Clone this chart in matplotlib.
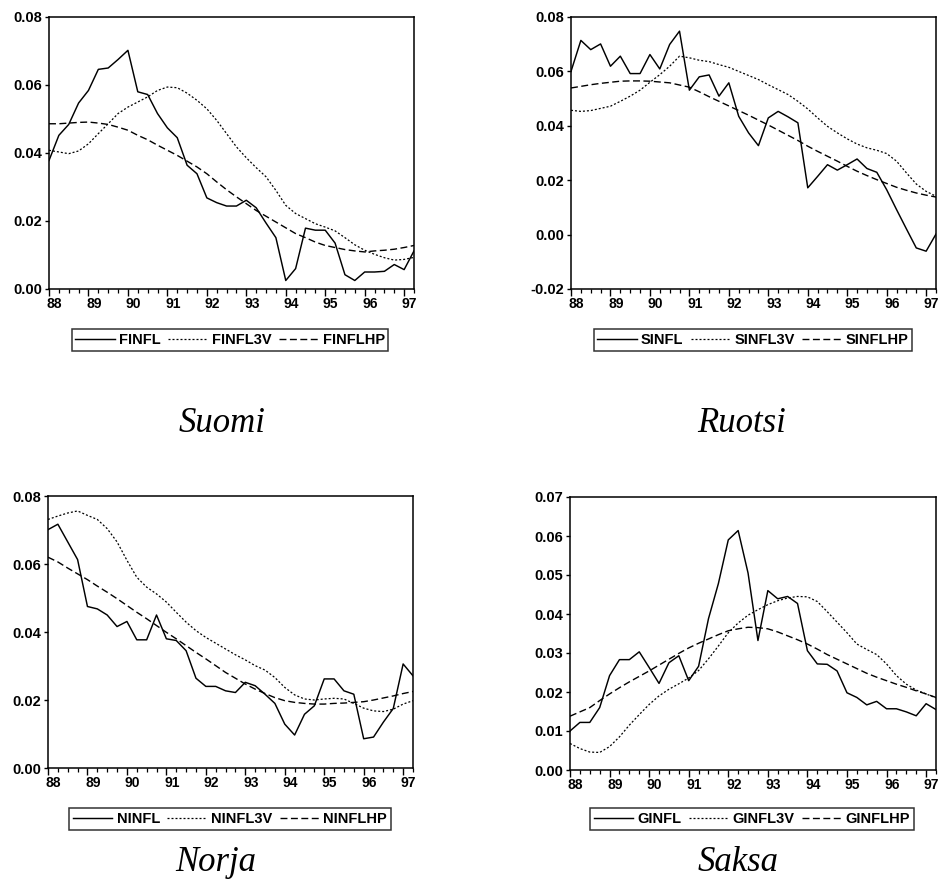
import matplotlib
matplotlib.use('Agg')
import matplotlib.pyplot as plt
from matplotlib import font_manager
from matplotlib.lines import Line2D
from matplotlib.transforms import ScaledTranslation, blended_transform_factory

# quarterly inflation 1988Q1 - 1997Q2: actual, 3-year moving average, HP trend
years = ['88', '89', '90', '91', '92', '93', '94', '95', '96', '97']

fin_infl = [0.0378, 0.0452, 0.0484, 0.0547, 0.0584, 0.0646, 0.0650, 0.0675, 0.0702, 0.0580,
            0.0572, 0.0516, 0.0474, 0.0445, 0.0364, 0.0339, 0.0268, 0.0254, 0.0244, 0.0244,
            0.0261, 0.0239, 0.0194, 0.0151, 0.0025, 0.0060, 0.0179, 0.0173, 0.0173, 0.0135,
            0.0042, 0.0025, 0.0050, 0.0050, 0.0052, 0.0072, 0.0057, 0.0112]
fin_3v = [0.0408, 0.0403, 0.0398, 0.0406, 0.0427, 0.0457, 0.0486, 0.0516, 0.0535, 0.0550,
          0.0565, 0.0584, 0.0594, 0.0592, 0.0576, 0.0555, 0.0530, 0.0496, 0.0457, 0.0418,
          0.0386, 0.0357, 0.0330, 0.0290, 0.0246, 0.0222, 0.0207, 0.0192, 0.0182, 0.0171,
          0.0151, 0.0130, 0.0114, 0.0102, 0.0092, 0.0085, 0.0087, 0.0093]
fin_hp = [0.0486, 0.0486, 0.0488, 0.0490, 0.0491, 0.0488, 0.0484, 0.0476, 0.0467, 0.0452,
          0.0439, 0.0423, 0.0408, 0.0393, 0.0376, 0.0359, 0.0339, 0.0315, 0.0292, 0.0271,
          0.0251, 0.0231, 0.0214, 0.0197, 0.0180, 0.0163, 0.0151, 0.0138, 0.0128, 0.0122,
          0.0116, 0.0112, 0.0109, 0.0112, 0.0114, 0.0117, 0.0122, 0.0128]

swe_infl = [0.0600, 0.0714, 0.0680, 0.0701, 0.0619, 0.0656, 0.0592, 0.0592, 0.0662, 0.0609,
            0.0699, 0.0748, 0.0531, 0.0580, 0.0587, 0.0509, 0.0558, 0.0435, 0.0374, 0.0327,
            0.0429, 0.0453, 0.0433, 0.0411, 0.0172, 0.0214, 0.0257, 0.0237, 0.0257, 0.0278,
            0.0243, 0.0229, 0.0165, 0.0092, 0.0021, -0.0049, -0.0061, 0.0002]
swe_3v = [0.0457, 0.0453, 0.0456, 0.0464, 0.0472, 0.0490, 0.0509, 0.0531, 0.0560, 0.0588,
          0.0619, 0.0656, 0.0650, 0.0641, 0.0636, 0.0625, 0.0615, 0.0600, 0.0585, 0.0570,
          0.0551, 0.0533, 0.0515, 0.0490, 0.0462, 0.0429, 0.0398, 0.0374, 0.0352, 0.0333,
          0.0319, 0.0310, 0.0298, 0.0270, 0.0227, 0.0186, 0.0159, 0.0141]
swe_hp = [0.0539, 0.0545, 0.0551, 0.0556, 0.0560, 0.0564, 0.0565, 0.0565, 0.0564, 0.0561,
          0.0558, 0.0550, 0.0542, 0.0525, 0.0507, 0.0490, 0.0473, 0.0456, 0.0439, 0.0421,
          0.0403, 0.0384, 0.0365, 0.0346, 0.0325, 0.0306, 0.0288, 0.0270, 0.0251, 0.0233,
          0.0217, 0.0202, 0.0188, 0.0174, 0.0163, 0.0153, 0.0145, 0.0138]

nor_infl = [0.0701, 0.0717, 0.0665, 0.0613, 0.0475, 0.0468, 0.0450, 0.0416, 0.0431, 0.0377,
            0.0377, 0.0450, 0.0380, 0.0375, 0.0345, 0.0264, 0.0240, 0.0240, 0.0227, 0.0222,
            0.0252, 0.0242, 0.0217, 0.0190, 0.0129, 0.0097, 0.0158, 0.0183, 0.0262, 0.0262,
            0.0227, 0.0217, 0.0086, 0.0091, 0.0135, 0.0175, 0.0306, 0.0271]
nor_3v = [0.0731, 0.0741, 0.0750, 0.0756, 0.0743, 0.0731, 0.0704, 0.0665, 0.0611, 0.0561,
          0.0532, 0.0512, 0.0488, 0.0458, 0.0429, 0.0404, 0.0384, 0.0367, 0.0350, 0.0333,
          0.0318, 0.0301, 0.0288, 0.0266, 0.0237, 0.0215, 0.0203, 0.0200, 0.0203, 0.0205,
          0.0203, 0.0190, 0.0176, 0.0168, 0.0166, 0.0173, 0.0188, 0.0198]
nor_hp = [0.0620, 0.0606, 0.0588, 0.0571, 0.0554, 0.0535, 0.0517, 0.0498, 0.0478, 0.0458,
          0.0439, 0.0419, 0.0399, 0.0380, 0.0360, 0.0340, 0.0321, 0.0301, 0.0281, 0.0264,
          0.0247, 0.0232, 0.0219, 0.0207, 0.0198, 0.0193, 0.0190, 0.0188, 0.0188, 0.0190,
          0.0191, 0.0193, 0.0195, 0.0200, 0.0206, 0.0212, 0.0219, 0.0225]

ger_infl = [0.0100, 0.0122, 0.0122, 0.0160, 0.0242, 0.0283, 0.0283, 0.0303, 0.0263, 0.0222,
            0.0275, 0.0293, 0.0229, 0.0266, 0.0388, 0.0478, 0.0590, 0.0614, 0.0505, 0.0332,
            0.0460, 0.0439, 0.0445, 0.0427, 0.0306, 0.0272, 0.0271, 0.0254, 0.0198, 0.0186,
            0.0167, 0.0176, 0.0157, 0.0157, 0.0149, 0.0139, 0.0170, 0.0155]
ger_3v = [0.0068, 0.0055, 0.0046, 0.0045, 0.0060, 0.0085, 0.0115, 0.0142, 0.0168, 0.0190,
          0.0207, 0.0221, 0.0236, 0.0255, 0.0285, 0.0318, 0.0352, 0.0377, 0.0397, 0.0411,
          0.0424, 0.0434, 0.0441, 0.0445, 0.0444, 0.0432, 0.0406, 0.0379, 0.0352, 0.0323,
          0.0309, 0.0296, 0.0272, 0.0242, 0.0220, 0.0205, 0.0195, 0.0185]
ger_hp = [0.0138, 0.0149, 0.0160, 0.0178, 0.0195, 0.0211, 0.0226, 0.0240, 0.0254, 0.0269,
          0.0284, 0.0299, 0.0313, 0.0325, 0.0336, 0.0347, 0.0357, 0.0362, 0.0366, 0.0365,
          0.0362, 0.0354, 0.0344, 0.0334, 0.0323, 0.0310, 0.0296, 0.0284, 0.0272, 0.0260,
          0.0248, 0.0238, 0.0229, 0.0220, 0.0212, 0.0203, 0.0195, 0.0186]

W, H = 941, 884

def has_font(name):
    try:
        font_manager.findfont(font_manager.FontProperties(family=name), fallback_to_default=False)
        return True
    except Exception:
        return False

narrow = 'Liberation Sans Narrow' if has_font('Liberation Sans Narrow') else 'Liberation Sans'

fig = plt.figure(figsize=(W / 100, H / 100), dpi=100)
fig.patch.set_facecolor('white')

solid = dict(color='black', lw=1.05, ls='-')
dotted = dict(color='black', lw=0.9, ls=(0, (1.6, 1.6)))
dashed = dict(color='black', lw=1.0, ls=(0, (5, 2.5)))

def panel(box, series, names, ylim, ystep, leg_xy, title, title_xy):
    l, r, t, b = box
    ax = fig.add_axes([l / W, 1 - b / H, (r - l) / W, (b - t) / H])
    x = list(range(len(series[0])))
    ax.plot(x, series[0], **solid)
    ax.plot(x, series[1], **dotted)
    ax.plot(x, series[2], **dashed)
    ax.set_xlim(0, len(x) - 1)
    ax.set_ylim(*ylim)

    n = round((ylim[1] - ylim[0]) / ystep)
    yt = [ylim[0] + k * ystep for k in range(n + 1)]
    ax.set_yticks(yt)
    ax.set_yticklabels(['%.2f' % v for v in yt], fontfamily='Liberation Sans',
                       fontweight='bold', fontsize=10.5)

    # year ticks with labels set just right of the tick, quarter ticks in between
    ax.set_xticks(range(0, 37, 4))
    ax.set_xticklabels([])
    ax.set_xticks(range(0, len(x)), minor=True)
    lab_tr = blended_transform_factory(ax.transData, ax.transAxes) + \
        ScaledTranslation(5.5 / 100, -8 / 100, fig.dpi_scale_trans)
    for k, yr in enumerate(years):
        ax.text(4 * k, 0, yr, transform=lab_tr, ha='center', va='top',
                fontfamily=narrow, fontweight='bold', fontsize=10)
    ax.tick_params(axis='x', which='major', direction='out', length=5, width=1, pad=3)
    ax.tick_params(axis='x', which='minor', direction='out', length=3, width=0.9)
    ax.tick_params(axis='y', direction='out', length=3, width=1, pad=2)
    for s in ax.spines.values():
        s.set_linewidth(1.1)

    handles = [Line2D([], [], **solid), Line2D([], [], **dotted), Line2D([], [], **dashed)]
    leg = ax.legend(handles, names, loc='center', bbox_to_anchor=(leg_xy[0] / W, 1 - leg_xy[1] / H),
                    bbox_transform=fig.transFigure, ncol=3, frameon=True, fancybox=False,
                    handlelength=2.7, handletextpad=0.3, columnspacing=0.5, borderpad=0.25,
                    borderaxespad=0, prop=dict(family='Liberation Sans', weight='bold', size=10.5))
    leg.get_frame().set_edgecolor('black')
    leg.get_frame().set_linewidth(1.1)

    fig.text(title_xy[0] / W, 1 - title_xy[1] / H, title, fontfamily='Liberation Serif',
             fontstyle='italic', fontsize=25, ha='center', va='baseline')
    return ax

panel((49, 414, 17, 289), [fin_infl, fin_3v, fin_hp], ['FINFL', 'FINFL3V', 'FINFLHP'],
      (0.0, 0.08), 0.02, (230, 340), 'Suomi', (222, 432))
panel((571, 936, 17, 289), [swe_infl, swe_3v, swe_hp], ['SINFL', 'SINFL3V', 'SINFLHP'],
      (-0.02, 0.08), 0.02, (753, 340), 'Ruotsi', (742, 432))
panel((48, 413, 496, 768), [nor_infl, nor_3v, nor_hp], ['NINFL', 'NINFL3V', 'NINFLHP'],
      (0.0, 0.08), 0.02, (230, 819), 'Norja', (216, 871))
panel((570, 936, 497, 770), [ger_infl, ger_3v, ger_hp], ['GINFL', 'GINFL3V', 'GINFLHP'],
      (0.0, 0.07), 0.01, (752, 819), 'Saksa', (738, 871))

fig.savefig('out.png', dpi=100)
